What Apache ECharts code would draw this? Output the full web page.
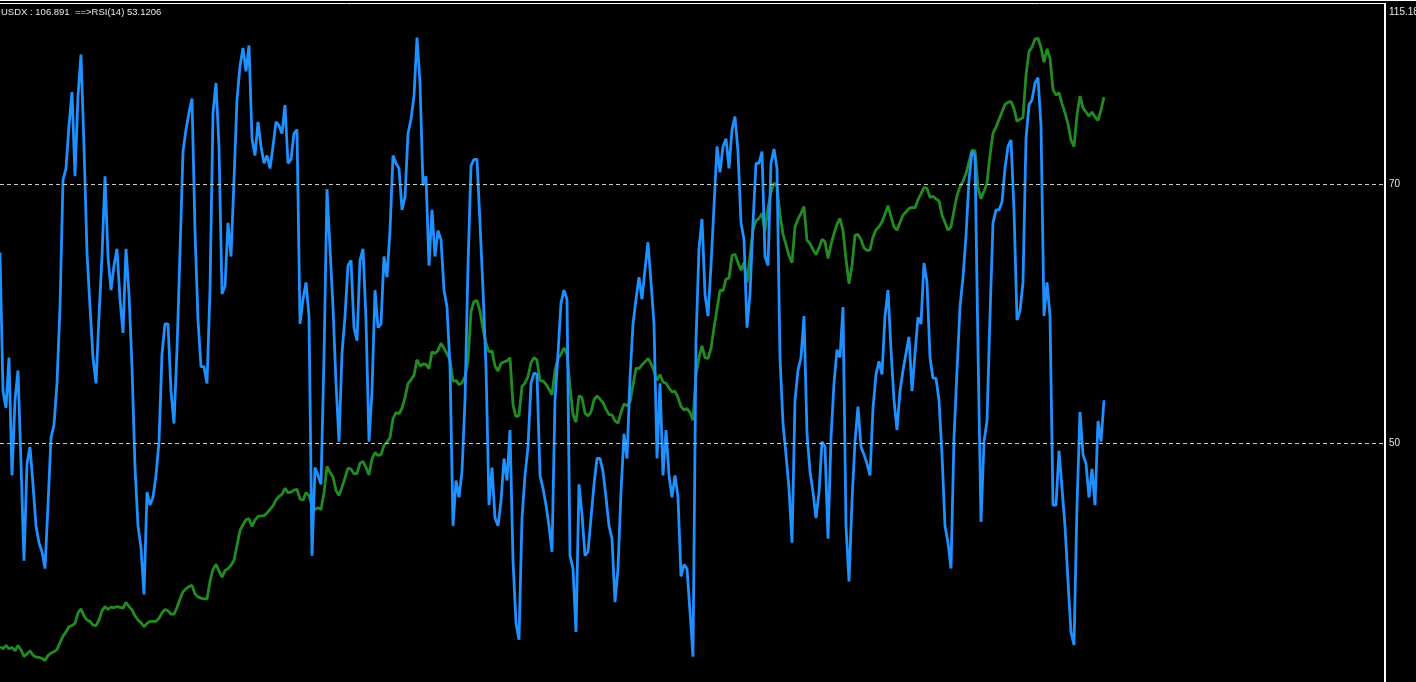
<!DOCTYPE html>
<html>
<head>
<meta charset="utf-8">
<script src="https://cdn.jsdelivr.net/npm/echarts@6/dist/echarts.min.js"></script>
<style>
html,body{margin:0;padding:0;background:#000;}
#chart{width:1416px;height:682px;}
</style>
</head>
<body>
<div id="chart"></div>
<script>
// RSI(14) values, one per bar (oldest -> newest)
const rsiValues = [
64.7,54.0,52.7,56.6,47.5,53.3,55.6,48.4,40.9,48.4,49.7,46.8,43.6,42.3,41.6,40.3,45.2,50.4,51.4,54.6,
60.5,70.3,71.2,74.5,77.1,70.6,76.8,80.0,72.9,64.7,60.5,56.6,54.6,59.8,64.4,70.6,64.4,61.8,63.7,65.0,
61.1,58.5,65.0,61.5,55.9,48.1,43.6,41.9,38.3,46.2,45.2,45.8,47.5,50.1,56.9,59.2,59.2,54.0,51.5,57.2,
64.7,72.5,74.2,75.5,76.6,66.4,59.5,55.9,55.9,54.6,61.8,75.5,77.8,72.9,61.5,62.1,67.0,64.4,70.3,76.5,
79.1,80.5,78.7,80.7,73.5,72.2,74.8,72.9,71.6,72.2,71.2,72.9,74.8,74.5,73.9,76.1,71.6,71.9,73.9,74.2,
59.2,61.1,62.4,59.8,41.3,48.1,47.5,46.8,56.6,69.6,65.0,60.5,54.6,50.1,56.9,59.8,63.7,64.1,58.9,57.9,
64.1,65.0,59.5,50.1,54.0,61.8,58.9,59.2,64.4,62.8,66.4,72.2,71.6,71.2,68.0,69.0,73.9,75.0,76.8,81.3,
77.8,69.9,70.6,63.7,68.0,64.4,66.4,65.7,61.8,60.5,55.9,43.6,47.1,45.8,47.8,53.3,63.7,71.4,71.9,71.9,
67.0,61.8,55.9,45.2,48.1,44.2,43.6,45.5,48.8,47.1,51.0,40.9,36.1,34.8,44.2,47.5,49.7,54.6,55.4,55.3,
47.5,46.5,45.2,43.6,41.6,53.3,56.9,60.8,61.8,61.1,41.3,40.3,35.4,46.8,44.5,41.3,41.6,44.2,46.8,48.8,
48.8,47.8,45.8,43.6,42.6,37.7,40.3,46.2,50.7,48.8,55.0,59.2,61.1,62.8,61.1,63.4,65.5,62.4,59.2,48.8,
54.6,47.5,51.0,47.5,45.8,47.5,45.8,39.7,40.6,40.3,37.0,33.5,57.9,65.0,67.3,61.5,59.8,63.7,68.3,72.9,
70.9,72.9,73.5,71.2,74.2,75.2,72.5,67.0,65.7,58.9,61.5,67.0,71.6,71.6,72.5,64.4,63.7,71.6,72.7,71.2,
56.6,51.5,49.1,46.5,42.3,53.3,55.6,56.6,59.8,50.7,47.8,46.2,44.2,46.2,50.1,49.7,42.6,50.4,54.6,57.2,
56.6,60.5,43.6,39.3,45.5,50.1,52.8,49.7,49.1,48.4,47.5,52.7,55.3,56.3,55.3,59.8,61.8,57.2,53.3,51.0,
54.0,55.6,56.9,58.2,54.0,56.9,59.7,59.2,63.9,62.4,56.6,55.0,55.0,53.3,49.1,43.6,42.3,40.3,50.4,55.6,
60.5,62.8,66.0,70.3,72.5,72.2,57.2,43.9,50.1,51.7,59.8,67.0,68.0,68.0,68.6,71.2,72.9,73.4,68.0,59.5,
60.2,62.4,73.5,76.1,76.5,77.8,78.2,74.5,59.8,62.4,59.8,45.2,45.2,49.4,46.5,43.6,39.3,35.4,34.4,45.2,
52.4,49.1,48.4,45.8,48.0,45.2,51.7,50.1,53.3
];

// USDX close overlay, one per bar (same bars as RSI)
const usdxValues = [
57.93,57.74,58.04,57.74,57.85,57.55,58.04,57.63,57.06,57.29,57.55,57.18,56.99,56.99,56.88,56.69,57.14,57.36,57.48,57.67,
58.30,58.87,59.24,59.70,59.81,60.00,60.94,61.31,60.67,60.30,60.18,59.85,59.81,60.30,61.12,61.50,61.24,61.46,61.39,61.50,
61.42,61.35,61.88,61.50,61.20,60.67,60.30,60.07,59.70,60.00,60.18,60.18,60.18,60.45,60.94,61.24,61.12,60.82,60.82,61.42,
62.18,62.82,63.08,63.30,63.38,62.63,62.36,62.25,62.18,62.18,63.76,64.81,65.26,64.66,64.13,64.70,64.88,65.18,65.63,66.95,
68.27,68.79,69.24,69.32,68.64,69.21,69.54,69.58,69.58,69.84,70.15,70.48,71.01,71.31,71.50,72.03,71.65,71.69,71.87,71.95,
71.09,70.97,71.65,71.39,70.45,70.15,70.30,70.15,71.65,73.98,73.45,73.04,71.84,71.39,72.14,72.96,73.83,73.75,73.34,73.34,
74.28,74.43,73.90,73.23,74.66,75.22,74.96,75.03,75.86,76.16,76.54,78.23,78.79,78.68,79.17,80.11,81.35,81.72,82.10,83.49,
82.93,83.11,83.08,82.70,84.20,84.05,84.32,84.96,84.50,84.02,83.49,81.57,81.65,81.27,81.42,81.99,83.38,87.81,88.68,88.75,
87.81,86.23,84.96,84.20,84.28,82.93,82.48,83.15,83.30,83.38,83.68,79.47,78.42,78.53,81.12,81.42,81.99,83.23,83.68,83.45,
81.61,81.61,81.31,80.86,80.37,82.55,83.57,83.98,84.54,83.98,81.05,78.60,77.93,80.29,80.11,78.72,78.49,78.83,79.92,80.26,
79.99,79.66,79.09,78.60,78.57,78.04,77.85,78.79,79.54,79.39,79.73,81.20,82.74,82.70,83.04,83.30,83.60,83.15,82.48,81.65,
82.17,81.50,81.39,80.97,80.63,80.67,80.14,79.32,79.02,79.13,78.79,78.11,82.17,83.68,84.73,83.68,83.60,84.50,86.31,88.00,
89.69,89.62,90.67,90.75,92.77,92.89,92.14,91.46,92.14,90.37,92.70,95.07,95.86,96.08,96.53,94.96,97.02,98.41,99.24,98.94,
96.46,94.65,93.75,92.77,92.14,95.33,96.01,96.53,97.14,94.13,93.83,93.30,92.85,93.45,94.20,94.02,92.51,93.75,94.73,95.56,
96.08,94.96,92.47,90.26,91.87,94.58,94.65,94.20,93.45,93.23,93.26,94.43,95.07,95.33,95.78,96.46,97.21,96.23,95.33,95.03,
95.71,96.38,96.65,96.98,97.06,97.02,97.74,98.26,98.86,98.75,97.96,98.04,97.81,97.66,96.38,95.71,95.03,95.33,96.76,98.11,
98.90,99.39,100.07,101.12,102.17,102.10,98.79,97.81,98.49,99.24,101.72,103.68,104.20,104.88,105.56,106.23,106.42,106.50,105.86,104.73,
104.92,105.07,108.86,110.93,111.34,112.06,112.13,111.30,109.99,111.19,110.36,107.55,107.06,107.28,106.31,105.48,104.50,103.04,102.47,105.29,
106.98,105.93,105.56,105.18,105.56,105.11,104.81,105.75,106.89
];

const rsiLevels = [50, 70];
const priceLabel = [115.18];
const headerText = 'USDX : 106.891  ==>RSI(14) 53.1206';

const chart = echarts.init(document.getElementById('chart'), null, {renderer: 'canvas'});
const font = '"Liberation Sans", "DejaVu Sans", sans-serif';

chart.setOption({
  backgroundColor: '#000000',
  animation: false,
  title: {
    text: headerText,
    left: 1, top: 7, padding: 0,
    textStyle: {color: '#e6e6e6', fontSize: 9.5, fontWeight: 'normal', fontFamily: font}
  },
  grid: {left: 0, right: 31, top: 4, bottom: 0, containLabel: false, outerBoundsMode: 'none'},
  xAxis: {
    type: 'value', min: 0, max: 1385 / 3, show: false
  },
  yAxis: [
    {
      type: 'value', position: 'right', min: 31.54, max: 83.90,
      axisLine: {show: true, onZero: false, lineStyle: {color: '#ffffff', width: 2}},
      axisTick: {show: false},
      splitLine: {show: false},
      axisLabel: {
        customValues: rsiLevels, color: '#e6e6e6', fontSize: 10, fontFamily: font, margin: 4
      }
    },
    {
      type: 'value', position: 'right', min: 54.78, max: 115.18,
      axisLine: {show: false}, axisTick: {show: false}, splitLine: {show: false},
      axisLabel: {
        customValues: priceLabel, color: '#e6e6e6', fontSize: 10, fontFamily: font, margin: 4,
        verticalAlign: 'top', padding: [3, 0, 0, 0], formatter: v => v.toFixed(2)
      }
    }
  ],
  graphic: [
    {type: 'line', silent: true, shape: {x1: 0, y1: 0.5, x2: 1416, y2: 0.5}, style: {stroke: '#ffffff', lineWidth: 1}},
    {type: 'line', silent: true, shape: {x1: 0, y1: 3.5, x2: 1386, y2: 3.5}, style: {stroke: '#ffffff', lineWidth: 1}}
  ],
  series: [
    {
      name: 'USDX', type: 'line', yAxisIndex: 1, showSymbol: false, silent: true,
      data: usdxValues.map((v, i) => [i, v]),
      lineStyle: {color: '#228B22', width: 2.8}, z: 2
    },
    {
      name: 'RSI(14)', type: 'line', yAxisIndex: 0, showSymbol: false, silent: true,
      data: rsiValues.map((v, i) => [i, v]),
      lineStyle: {color: '#1E90FF', width: 2.8}, z: 3,
      markLine: {
        silent: true, symbol: 'none', label: {show: false},
        lineStyle: {color: '#c8c8c8', type: [4, 3], width: 1},
        data: rsiLevels.map(v => ({yAxis: v}))
      }
    }
  ]
});
</script>
</body>
</html>
